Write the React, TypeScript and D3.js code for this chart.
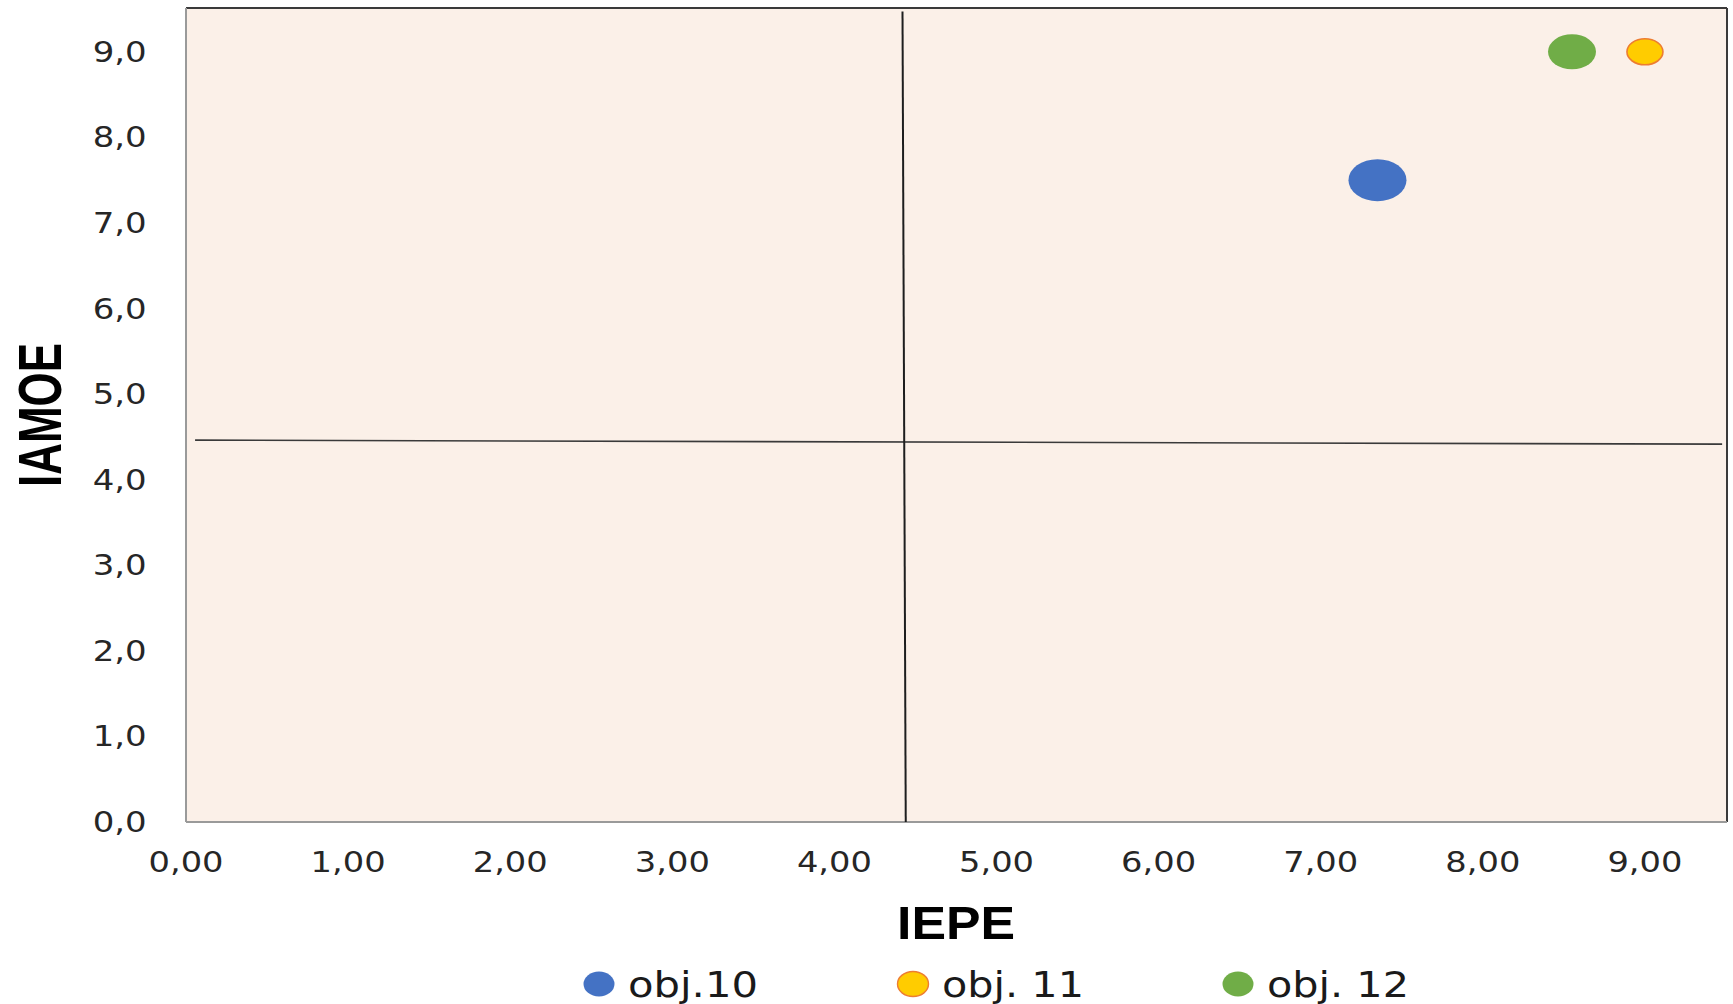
import React from "react";
import * as d3 from "d3";

// ---- data ----
const seriesNames = ["obj.10", "obj. 11", "obj. 12"];
const iepeValues = [7.35, 9.0, 8.55]; // x
const iamoeValues = [7.5, 9.0, 9.0]; // y
const xTickValues = [0, 1, 2, 3, 4, 5, 6, 7, 8, 9];
const yTickValues = [0, 1, 2, 3, 4, 5, 6, 7, 8, 9];
// quadrant reference lines [x1, y1, x2, y2] in data units
const verticalRef = [4.42, 9.47, 4.44, 0];
const horizontalRef = [0.056, 4.462, 9.476, 4.415];
const xTitle = "IEPE";
const yTitle = "IAMOE";

// ---- styles ----
const seriesStyle = [
  { fill: "#4472C4", stroke: "none", rx: 29, ry: 21 },
  { fill: "#FFCC00", stroke: "#ED7D31", rx: 18, ry: 13 },
  { fill: "#70AD47", stroke: "none", rx: 24, ry: 17.5 },
];
const legendLayout = [
  { mx: 599, tx: 628, tlen: 130 },
  { mx: 913, tx: 942, tlen: 142 },
  { mx: 1238, tx: 1267, tlen: 142 },
];

const W = 1733;
const H = 1004;
const plot = { left: 186, right: 1726, top: 9, bottom: 822 };

export default function App() {
  const x = d3.scaleLinear().domain([0, 9.5]).range([plot.left, plot.right]);
  const y = d3.scaleLinear().domain([0, 9.5]).range([plot.bottom, plot.top]);
  const fx = (v: number) => d3.format(".2f")(v).replace(".", ",");
  const fy = (v: number) => d3.format(".1f")(v).replace(".", ",");
  const tickFont = "'DejaVu Sans', Verdana, sans-serif";
  const titleFont = "'Liberation Sans', Arial, sans-serif";

  return (
    <svg
      width={W}
      height={H}
      style={{ position: "absolute", left: 0, top: 0, display: "block" }}
    >
      <rect x={0} y={0} width={W} height={H} fill="#ffffff" />
      {/* plot background */}
      <rect
        x={plot.left}
        y={plot.top}
        width={plot.right - plot.left}
        height={plot.bottom - plot.top}
        fill="#FBF0E8"
      />
      {/* borders */}
      <line x1={plot.left} y1={plot.top - 1} x2={plot.right + 1} y2={plot.top - 1} stroke="#3a3a3a" strokeWidth={2} />
      <line x1={plot.right + 1} y1={plot.top - 1} x2={plot.right + 1} y2={plot.bottom} stroke="#3a3a3a" strokeWidth={2} />
      <line x1={plot.left} y1={plot.top - 1} x2={plot.left} y2={plot.bottom} stroke="#9a9a9a" strokeWidth={2} />
      <line x1={plot.left} y1={plot.bottom} x2={plot.right + 1} y2={plot.bottom} stroke="#9a9a9a" strokeWidth={2} />

      {/* quadrant lines */}
      <line
        x1={x(horizontalRef[0])}
        y1={y(horizontalRef[1])}
        x2={x(horizontalRef[2])}
        y2={y(horizontalRef[3])}
        stroke="#3a3a3a"
        strokeWidth={1.6}
      />
      <line
        x1={x(verticalRef[0])}
        y1={y(verticalRef[1])}
        x2={x(verticalRef[2])}
        y2={y(verticalRef[3])}
        stroke="#1e1e1e"
        strokeWidth={2}
      />

      {/* y ticks */}
      {yTickValues.map((v) => (
        <text
          key={"y" + v}
          x={146.7}
          y={y(v) + 10}
          textAnchor="end"
          fontFamily={tickFont}
          fontSize={27.5}
          fill="#262626"
          textLength={54}
          lengthAdjust="spacingAndGlyphs"
        >
          {fy(v)}
        </text>
      ))}
      {/* x ticks */}
      {xTickValues.map((v) => (
        <text
          key={"x" + v}
          x={x(v) - 37.5}
          y={871.5}
          fontFamily={tickFont}
          fontSize={27.5}
          fill="#262626"
          textLength={75}
          lengthAdjust="spacingAndGlyphs"
        >
          {fx(v)}
        </text>
      ))}

      {/* axis titles */}
      <text
        x={956 - 59}
        y={939}
        fontFamily={titleFont}
        fontWeight="bold"
        fontSize={46}
        fill="#000"
        textLength={118}
        lengthAdjust="spacingAndGlyphs"
      >
        {xTitle}
      </text>
      <text
        transform={`translate(61, ${415 + 72}) rotate(-90)`}
        x={0}
        y={0}
        fontFamily={titleFont}
        fontWeight="bold"
        fontSize={61}
        fill="#000"
        textLength={144}
        lengthAdjust="spacingAndGlyphs"
      >
        {yTitle}
      </text>

      {/* points */}
      {seriesNames.map((name, i) => (
        <ellipse
          key={name}
          cx={x(iepeValues[i])}
          cy={y(iamoeValues[i])}
          rx={seriesStyle[i].rx}
          ry={seriesStyle[i].ry}
          fill={seriesStyle[i].fill}
          stroke={seriesStyle[i].stroke}
          strokeWidth={1.6}
        />
      ))}

      {/* legend */}
      {seriesNames.map((name, i) => (
        <g key={"lg" + name}>
          <ellipse
            cx={legendLayout[i].mx}
            cy={984}
            rx={15.5}
            ry={12.5}
            fill={seriesStyle[i].fill}
            stroke={seriesStyle[i].stroke}
            strokeWidth={1.4}
          />
          <text
            x={legendLayout[i].tx}
            y={997}
            fontFamily={tickFont}
            fontSize={35}
            fill="#1a1a1a"
            textLength={legendLayout[i].tlen}
            lengthAdjust="spacingAndGlyphs"
          >
            {name}
          </text>
        </g>
      ))}
    </svg>
  );
}
